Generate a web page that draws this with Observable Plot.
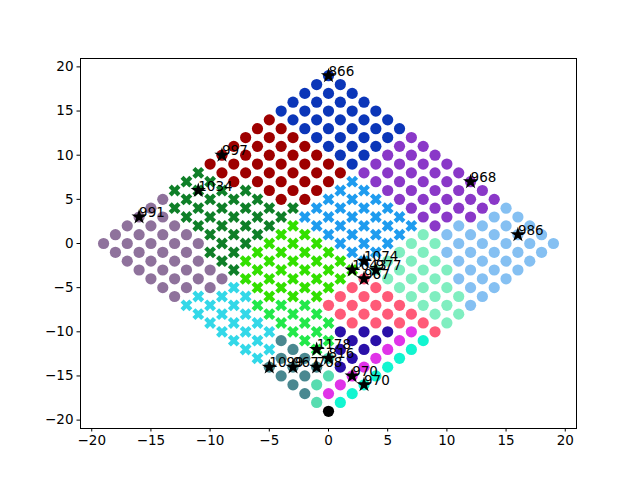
<!DOCTYPE html>
<html><head><meta charset="utf-8">
<script src="https://cdn.jsdelivr.net/npm/d3@7"></script>
<script src="https://cdn.jsdelivr.net/npm/@observablehq/plot@0.6"></script>
<style>body{margin:0;background:#fff}</style>
</head><body><div id="chart"></div>
<script>
// rows of the diamond grid, top (y=19) to bottom (y=-19); one code per point, left to right
const rowY = [19,18,17,16,15,14,13,12,11,10,9,8,7,6,5,4,3,2,1,0,-1,-2,-3,-4,-5,-6,-7,-8,-9,-10,-11,-12,-13,-14,-15,-16,-17,-18,-19];
const rowStartX = [0,-1,-2,-3,-4,-5,-6,-7,-8,-9,-10,-11,-12,-13,-14,-15,-16,-17,-18,-19,-18,-17,-16,-15,-14,-13,-12,-11,-10,-9,-8,-7,-6,-5,-4,-3,-2,-1,0];
const rowCodes = [
  "B",
  "BB",
  "BBB",
  "BBBB",
  "BBBBB",
  "RBBBBB",
  "RRBBBBB",
  "RRRBBBBP",
  "RRRRBBBPP",
  "RRRRRBBPPP",
  "RRRRRRBPPPP",
  "GRRRRRRPPPPP",
  "GGRRRRRDPPPPP",
  "GGGGRRRDDPPPPP",
  "VGGGGRRDDDPPPPP",
  "VGGGGGGDDDDPPPPL",
  "VVGGGGGDDDDDPPPLL",
  "VVVGGGGYDDDDDPLLLL",
  "VVVVGGGYYDDDDMLLLLL",
  "VVVVVGGYYYDDDMMLLLLL",
  "VVVVGGYYYYDDMMLLLLL",
  "VVVVGYYYYYDMMMLLLL",
  "VVVVGYYYYYMMMMLLL",
  "VVVVYYYYYKMMMLLL",
  "VVVCYYYYKKMMMLL",
  "VCCCYYYKKKMMML",
  "CCCEEEKKKKMML",
  "CCCEEEKKKKMM",
  "CCCEEEKKKKM",
  "CCCEEIIIFK",
  "CCTEEIIFA",
  "CCTEIIFA",
  "CTTSIFA",
  "TTTIFA",
  "TTSFA",
  "TSFA",
  "TFA",
  "SA",
  "Z"
];
const clusterCodes  = ["R","B","P","L","M","D","G","V","Y","C","E","K","I","F","A","T","S","Z"];
const clusterColors = ["#9e0000","#0b36b8","#8a38c8","#85c0f2","#80eec0","#1f9cef","#0f7f28","#8f729c","#33e000","#33d8e8","#22e84a","#ff5a78","#2a10a8","#e033e8","#12f5d0","#4a8890","#58dcb0","#000000"];
const clusterMarker = ["o","o","o","o","o","X","X","o","X","X","X","o","o","o","o","o","o","o"];

const starX = [0,-9,-11,-16,12,16,3,2,4,3,-1,0,-5,-3,-1,2,3];
const starY = [19,10,6,3,7,1,-2,-3,-3,-4,-12,-13,-14,-14,-14,-15,-16];
const starLabel = ["866","997","1034","991","968","986","1074","1043","977","967","1178","816","1099","967","708","970","970"];

const xTicks = [-20,-15,-10,-5,0,5,10,15,20];
const yTicks = [-20,-15,-10,-5,0,5,10,15,20];

// build table
const pts = [];
rowCodes.forEach((s, i) => {
  for (let j = 0; j < s.length; j++) {
    const k = clusterCodes.indexOf(s[j]);
    pts.push({x: rowStartX[i] + 2*j, y: rowY[i], color: clusterColors[k], marker: clusterMarker[k]});
  }
});
const stars = starX.map((x, i) => ({x, y: starY[i], label: starLabel[i]}));

const filledX = {
  draw(ctx, size) {
    const r = Math.sqrt(size / Math.PI);
    const h = r * 1.15, w = r * 0.4;
    const p = [[w,h],[w,w],[h,w],[h,-w],[w,-w],[w,-h],[-w,-h],[-w,-w],[-h,-w],[-h,w],[-w,w],[-w,h]]
      .map(([a,b]) => [(a-b)/Math.SQRT2, (a+b)/Math.SQRT2]);
    ctx.moveTo(p[0][0], p[0][1]);
    for (let i = 1; i < p.length; i++) ctx.lineTo(p[i][0], p[i][1]);
    ctx.closePath();
  }
};
const fmt = d => d < 0 ? "\u2212" + (-d) : String(d);

const chart = Plot.plot({
  width: 640, height: 480,
  marginLeft: 80, marginRight: 64, marginTop: 58, marginBottom: 52,
  style: {fontFamily: "DejaVu Sans, sans-serif", fontSize: "13.5px", background: "#fff"},
  x: {domain: [-20.95, 20.95]},
  y: {domain: [-20.95, 20.95]},
  color: {type: "identity"},
  marks: [
    Plot.dot(pts.filter(d => d.marker === "o"), {x: "x", y: "y", fill: "color", r: 5.6, symbol: "circle"}),
    Plot.dot(pts.filter(d => d.marker === "X"), {x: "x", y: "y", fill: "color", r: 5.4, symbol: filledX}),
    Plot.dot(stars, {x: "x", y: "y", fill: "black", symbol: "star", r: 4.8}),
    Plot.text(stars, {x: "x", y: "y", text: "label", textAnchor: "start", lineAnchor: "bottom", fontSize: 13.5, fill: "black", dy: 0}),
    Plot.frame({stroke: "black"}),
    Plot.axisX({ticks: xTicks, tickFormat: fmt, tickSize: 3.5, tickPadding: 3, label: null, fontSize: 13.5}),
    Plot.axisY({ticks: yTicks, tickFormat: fmt, tickSize: 3.5, tickPadding: 3.5, label: null, fontSize: 13.5})
  ]
});
document.getElementById("chart").appendChild(chart);
</script>
</body></html>
